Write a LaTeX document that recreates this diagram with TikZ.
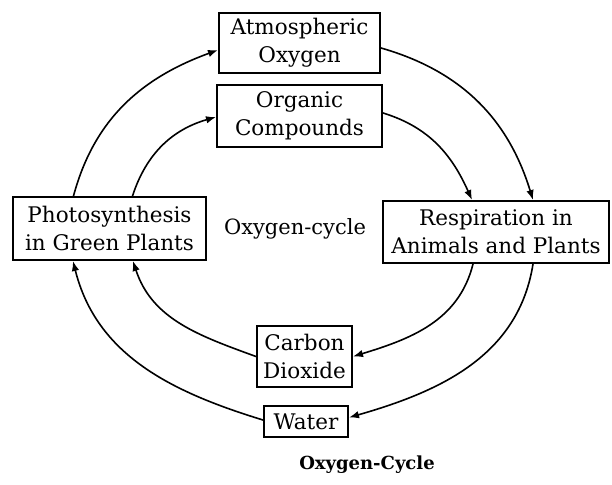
\documentclass[tikz,border=0pt]{standalone}
\usepackage{fontspec}
\setmainfont{DejaVu Serif}
\usetikzlibrary{arrows.meta}
\tikzset{
  box/.style={draw, line width=2pt, inner sep=0pt, align=center,
    font=\fontsize{21.5}{28}\selectfont},
  conn/.style={-{Latex[length=10pt,width=7.5pt]}, line width=1.6pt},
  plain/.style={align=center, font=\fontsize{21}{28}\selectfont}
}
\begin{document}
\begin{tikzpicture}[x=1pt,y=-1pt]
\useasboundingbox (0,0) rectangle (612,484);
\node[box, minimum width=161pt, minimum height=60pt] (atmo) at (299.5,43) {Atmospheric\\Oxygen};
\node[box, minimum width=165pt, minimum height=62pt] (org) at (299.5,116) {Organic\\Compounds};
\node[box, minimum width=193pt, minimum height=63pt] (photo) at (109.5,228.5) {Photosynthesis\\in Green Plants};
\node[box, minimum width=226pt, minimum height=62pt] (resp) at (496,232) {Respiration in\\Animals and Plants};
\node[box, minimum width=95pt, minimum height=61pt] (co2) at (304.5,356.5) {Carbon\\Dioxide};
\node[box, minimum width=84pt, minimum height=31pt] (water) at (306,421.5) {Water};
\node[plain] (label) at (295,229) {Oxygen-cycle};
\node[font=\bfseries\fontsize{18}{20}\selectfont] (cap) at (367,465) {Oxygen-Cycle};

\draw[conn] ([xshift=-36pt]photo.north) to[out=75,in=200] ([yshift=-7pt]atmo.west);
\draw[conn] ([xshift=23pt]photo.north) to[out=72,in=196] ([yshift=-1pt]org.west);
\draw[conn] ([yshift=-5pt]atmo.east) to[out=-16,in=107] ([xshift=37pt]resp.north);
\draw[conn] ([yshift=3pt]org.east) to[out=-17,in=114] ([xshift=-24pt]resp.north);
\draw[conn] ([xshift=-23pt]resp.south) to[out=-104,in=17] (co2.east);
\draw[conn] ([xshift=37pt]resp.south) to[out=-99,in=16] ([yshift=4pt]water.east);
\draw[conn] ([yshift=0pt]co2.west) to[out=160,in=-72] ([xshift=23.5pt]photo.south);
\draw[conn] ([yshift=1.5pt]water.west) to[out=163,in=-76] ([xshift=-36.5pt]photo.south);
\end{tikzpicture}
\end{document}
